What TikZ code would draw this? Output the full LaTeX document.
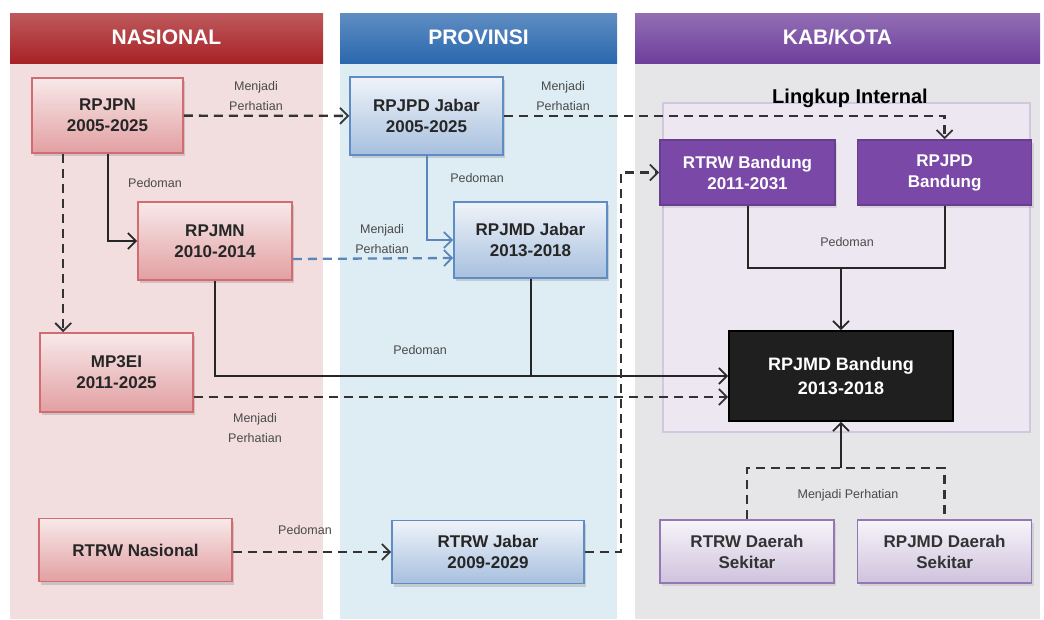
\documentclass[tikz,border=0pt]{standalone}
\usepackage{fontspec}
\setmainfont{Liberation Sans}
\usepackage{tikz}
\usetikzlibrary{positioning,arrows.meta,shadows}

\definecolor{nasred}{HTML}{A82226}
\definecolor{nasbg}{HTML}{F2DEDF}
\definecolor{nasline}{HTML}{D26C70}
\definecolor{provblue}{HTML}{2A68AE}
\definecolor{provbg}{HTML}{DDEDF3}
\definecolor{provline}{HTML}{5F8CC4}
\definecolor{kabpurple}{HTML}{6E3F9C}
\definecolor{kabbg}{HTML}{E6E5E8}
\definecolor{lingbg}{HTML}{EDE7F2}
\definecolor{lingline}{HTML}{D2C7DF}
\definecolor{bdgpurple}{HTML}{7A49A8}
\definecolor{sekline}{HTML}{9478B4}
\definecolor{lblgray}{HTML}{4A4A4A}
\definecolor{linkblue}{HTML}{5A86BA}

\tikzset{
	>={Straight Barb[length=8pt,width=16pt,line width=1.8pt]},
	box/.style={rectangle, align=center, inner sep=0pt, line width=1.6pt,
		font=\bfseries\fontsize{17}{21}\selectfont},
	nasbox/.style={box, draw=nasline, top color=white!85!nasline,
		bottom color=nasline!65, text=black!85,
		drop shadow={opacity=0.3,shadow xshift=2pt,shadow yshift=-3pt}},
	provbox/.style={box, draw=provline, top color=white!90!provline,
		bottom color=provline!55, text=black!85,
		drop shadow={opacity=0.3,shadow xshift=2pt,shadow yshift=-3pt}},
	kabbox/.style={box, fill=bdgpurple, draw=bdgpurple!85!black, text=white,
		drop shadow={opacity=0.2,shadow xshift=2pt,shadow yshift=-3pt}},
	sekbox/.style={box, draw=sekline, top color=white!92!sekline,
		bottom color=sekline!45, text=black!80,
		drop shadow={opacity=0.2,shadow xshift=2pt,shadow yshift=-3pt}},
	mainbox/.style={box, fill=black!88, draw=black, text=white,
		font=\bfseries\fontsize{18}{24}\selectfont},
	header/.style={text=white, font=\bfseries\fontsize{21}{25}\selectfont},
	lbl/.style={text=lblgray, align=center, font=\fontsize{12.5}{20}\selectfont},
	dashline/.style={->, line width=2.3pt, black!80, dash pattern=on 9pt off 6pt},
	solidline/.style={line width=2pt, black!85},
	bluedash/.style={->, line width=2.3pt, linkblue, dash pattern=on 9pt off 6pt},
	blueline/.style={->, line width=2pt, linkblue}
}

\begin{document}
\begin{tikzpicture}[x=1pt,y=-1pt]
	\useasboundingbox (0,0) rectangle (1044,619);
	% columns
	\fill[nasbg] (10,63) rectangle (323,619);
	\fill[provbg] (340,63) rectangle (617,619);
	\fill[kabbg] (635,63) rectangle (1040,619);
	\shade[top color=nasred!75!white, bottom color=nasred] (10,13) rectangle (323,63);
	\shade[top color=provblue!75!white, bottom color=provblue] (340,13) rectangle (617,63);
	\shade[top color=kabpurple!75!white, bottom color=kabpurple] (635,13) rectangle (1040,63);
	\node[header] (nas) at (166.5,37) {NASIONAL};
	\node[header] (prov) at (478.5,37) {PROVINSI};
	\node[header] (kab) at (837.5,37) {KAB/KOTA};
	\draw[lingline, fill=lingbg, line width=2.5pt] (663,103) rectangle (1030,432);
	\node[font=\bfseries\fontsize{20}{24}\selectfont] (ling) at (850,98) {Lingkup Internal};

	% nasional
	\node[nasbox, minimum width=151, minimum height=75] (rpjpn) at (107.5,115.5) {RPJPN\\2005-2025};
	\node[nasbox, minimum width=154, minimum height=78] (rpjmn) at (215,241) {RPJMN\\2010-2014};
	\node[nasbox, minimum width=153, minimum height=79] (mp3ei) at (116.5,372.5) {MP3EI\\2011-2025};
	\node[nasbox, minimum width=193, minimum height=63] (rtrwnas) at (135.5,550) {RTRW Nasional};
	% provinsi
	\node[provbox, minimum width=153, minimum height=78] (rpjpdjabar) at (426.5,116) {RPJPD Jabar\\2005-2025};
	\node[provbox, minimum width=153, minimum height=76] (rpjmdjabar) at (530.5,240) {RPJMD Jabar\\2013-2018};
	\node[provbox, minimum width=192, minimum height=63] (rtrwjabar) at (488,552) {RTRW Jabar\\2009-2029};
	% kab/kota
	\node[kabbox, minimum width=175, minimum height=65] (rtrwbdg) at (747.5,172.5) {RTRW Bandung\\2011-2031};
	\node[kabbox, minimum width=174, minimum height=65, right=21pt of rtrwbdg] (rpjpdbdg) {RPJPD\\Bandung};
	\node[mainbox, minimum width=224, minimum height=90] (rpjmdbdg) at (841,376) {RPJMD Bandung\\2013-2018};
	\node[sekbox, minimum width=174, minimum height=63] (rtrwds) at (747,551.5) {RTRW Daerah\\Sekitar};
	\node[sekbox, minimum width=174, minimum height=63, right=22pt of rtrwds] (rpjmdds) {RPJMD Daerah\\Sekitar};

	% links
	\draw[dashline] (rpjpn) -- (rpjpdjabar);
	\draw[solidline, ->] (rpjpn.south) |- (rpjmn.west);
	\draw[dashline] ([xshift=32pt]rpjpn.south west) -- ([xshift=24pt]mp3ei.north west);
	\draw[bluedash] ([yshift=-18pt]rpjmn.east) -- ([yshift=-18pt]rpjmdjabar.west);
	\draw[blueline] (rpjpdjabar.south) |- (rpjmdjabar.west);
	\draw[dashline] (rpjpdjabar.east) -| (rpjpdbdg.north);
	\draw[solidline, ->] (rpjmn.south) |- (rpjmdbdg.west);
	\draw[solidline] (rpjmdjabar.south) -- (rpjmdjabar.south |- rpjmdbdg.west);
	\coordinate (mp3end) at ([yshift=-21pt]rpjmdbdg.west);
	\draw[dashline] (mp3ei.east |- mp3end) -- (mp3end);
	\draw[dashline] (rtrwnas.east |- rtrwjabar.west) -- (rtrwjabar.west);
	\draw[dashline] (rtrwjabar.east) -| ([xshift=-38pt]rtrwbdg.west) -- (rtrwbdg.west);
	\draw[solidline] (rtrwbdg.south) -- ++(0,62) coordinate (pedjoin) -| (rpjpdbdg.south);
	\draw[solidline, ->] (pedjoin -| rpjmdbdg.north) -- (rpjmdbdg.north);
	\draw[dashline, -] (rtrwds.north) -- ++(0,-51) coordinate (sekjoin) -| (rpjmdds.north);
	\draw[solidline, ->] (sekjoin -| rpjmdbdg.south) -- (rpjmdbdg.south);

	% labels
	\node[lbl] (l1) at (256,96) {Menjadi\\Perhatian};
	\node[lbl] (l2) at (155,183) {Pedoman};
	\node[lbl] (l3) at (382,239) {Menjadi\\Perhatian};
	\node[lbl] (l4) at (477,178) {Pedoman};
	\node[lbl] (l5) at (563,96) {Menjadi\\Perhatian};
	\node[lbl] (l6) at (420,350) {Pedoman};
	\node[lbl] (l7) at (255,428) {Menjadi\\Perhatian};
	\node[lbl] (l8) at (305,530) {Pedoman};
	\node[lbl] (l9) at (847,242) {Pedoman};
	\node[lbl] (l10) at (848,495) {Menjadi Perhatian};
\end{tikzpicture}
\end{document}
